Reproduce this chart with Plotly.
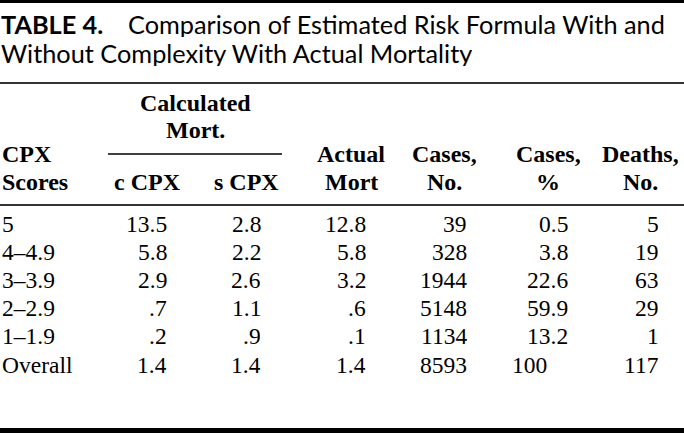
import plotly.graph_objects as go

# ---- data ----
cpx_scores = ["5", "4–4.9", "3–3.9", "2–2.9", "1–1.9", "Overall"]
calc_mort_c = [13.5, 5.8, 2.9, 0.7, 0.2, 1.4]
calc_mort_s = [2.8, 2.2, 2.6, 1.1, 0.9, 1.4]
actual_mort = [12.8, 5.8, 3.2, 0.6, 0.1, 1.4]
cases_no = [39, 328, 1944, 5148, 1134, 8593]
cases_pct = [0.5, 3.8, 22.6, 59.9, 13.2, 100]
deaths_no = [5, 19, 63, 29, 1, 117]

title_label = "TABLE 4."
title_line1 = "Comparison of Estimated Risk Formula With and"
title_line2 = "Without Complexity With Actual Mortality"

# ---- layout constants ----
W, H = 684, 433
SERIF = "Liberation Serif"
SANS = "Lato"
BODY = 23.5
HEAD = 24
TITLE = 25.3

def mort_fmt(v):
    s = f"{v:.1f}"
    return s[1:] if s.startswith("0.") else s

def pct_fmt(v):
    return str(int(v)) if float(v).is_integer() and v >= 100 else f"{v:.1f}"

fig = go.Figure()
ann = []
shapes = []

def txt(x, y, t, anchor="left", bold=False, family=SERIF, size=BODY, h=None):
    a = dict(x=x, y=y, xref="x", yref="y", text=f"<b>{t}</b>" if bold else t,
             showarrow=False, xanchor=anchor, yanchor="middle", borderpad=0,
             font=dict(family=family, size=size, color="black"))
    if h is not None:
        a["height"] = h
    ann.append(a)

def hline(y, x0, x1, w, color="black"):
    shapes.append(dict(type="line", xref="x", yref="y", x0=x0, x1=x1, y0=y, y1=y,
                       line=dict(color=color, width=w)))

# rules
hline(1.5, 0, W, 3)
hline(83, 0, W, 2, "#333")
hline(154, 108, 282, 1.5)
hline(205, 0, W, 2, "#333")
hline(430.5, 0, W, 5)

# title
txt(0, 24, title_label, bold=True, family=SANS, size=TITLE, h=26)
txt(127, 24, title_line1, family=SANS, size=TITLE, h=26)
txt(0, 53, title_line2, family=SANS, size=TITLE, h=26)

# header
txt(195, 102.5, "Calculated", "center", True, size=HEAD, h=21)
txt(195, 129.5, "Mort.", "center", True, size=HEAD, h=21)
hdr1_y, hdr2_y = 154, 182
txt(1, hdr1_y, "CPX", bold=True, size=HEAD, h=24)
txt(1, hdr2_y, "Scores", bold=True, size=HEAD, h=24)
txt(147, hdr2_y, "c CPX", "center", True, size=HEAD, h=24)
txt(246, hdr2_y, "s CPX", "center", True, size=HEAD, h=24)
for cx, a, b in [(351, "Actual", "Mort"), (444, "Cases,", "No."), (548, "Cases,", "%"), (640, "Deaths,", "No.")]:
    txt(cx, hdr1_y, a, "center", True, size=HEAD, h=24)
    txt(cx, hdr2_y, b, "center", True, size=HEAD, h=24)

# body
row_y0, row_dy = 223.5, 28.2
for i, lab in enumerate(cpx_scores):
    y = row_y0 + i * row_dy
    txt(1, y, lab, h=24)
    txt(168, y, mort_fmt(calc_mort_c[i]), "right", h=24)
    txt(262, y, mort_fmt(calc_mort_s[i]), "right", h=24)
    txt(367, y, mort_fmt(actual_mort[i]), "right", h=24)
    txt(468, y, str(cases_no[i]), "right", h=24)
    s = pct_fmt(cases_pct[i])
    txt(569 - (0.88 * BODY if "." not in s else 0), y, s, "right", h=24)
    txt(660, y, str(deaths_no[i]), "right", h=24)

fig.update_layout(
    width=W, height=H, margin=dict(l=0, r=0, t=0, b=0),
    paper_bgcolor="white", plot_bgcolor="white",
    xaxis=dict(range=[0, W], visible=False, fixedrange=True),
    yaxis=dict(range=[H, 0], visible=False, fixedrange=True),
    annotations=ann, shapes=shapes, showlegend=False,
)
fig.write_html("out.html", config={"displayModeBar": False},
               post_script="document.body.style.margin='0';document.body.style.overflow='hidden';")
